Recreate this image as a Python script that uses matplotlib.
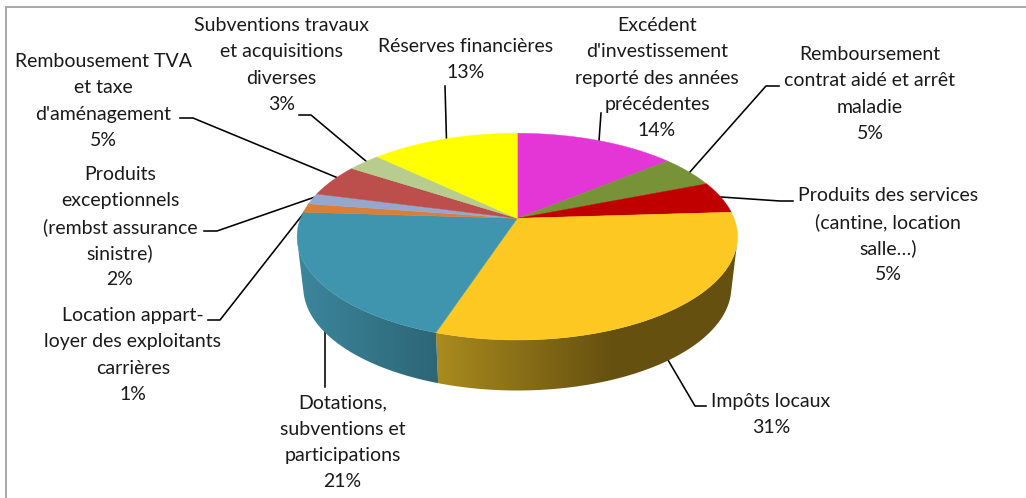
import numpy as np
import matplotlib
matplotlib.use("Agg")
import matplotlib.pyplot as plt
from matplotlib.patches import Polygon

# ---------- data ----------
labels = [
    "Excédent\nd'investissement\nreporté des années\nprécédentes",
    "Remboursement\ncontrat aidé et arrêt\nmaladie",
    "Produits des services\n(cantine, location\nsalle…)",
    "Impôts locaux",
    "Dotations,\nsubventions et\nparticipations",
    "Location appart-\nloyer des exploitants\ncarrières",
    "Produits\nexceptionnels\n(rembst assurance\nsinistre)",
    "Rembousement TVA\net taxe\nd'aménagement",
    "Subventions travaux\net acquisitions\ndiverses",
    "Réserves financières",
]
values = [14, 5, 5, 31, 20.9, 1.4, 1.7, 5.1, 2.9, 12.9]

# ---------- style / layout ----------
colors = ["#E436D6", "#779237", "#C00000", "#FCC821", "#4095AE",
          "#D8803A", "#94A8CE", "#BC4E4C", "#B8CC90", "#FFFF00"]
# centre x and first-line centre y of each label block, in pixels
label_x = [657, 870, 888, 771, 342.5, 133, 120, 103.5, 281.5, 465.5]
label_y = [25.5, 54.5, 195.5, 401.5, 403, 315.5, 174.5, 61.5, 25.5, 46.5]
leaders = [
    [(601, 113), (599, 141)],
    [(689, 173), (766, 86), (779, 86)],
    [(721, 197), (780, 201), (793, 201)],
    [(668, 360), (695, 406), (706, 406)],
    [(324.5, 328), (324.5, 387)],
    [(208, 320), (220, 320), (307, 209)],
    [(204, 231), (217, 231), (315, 197)],
    [(180, 118), (193, 118), (338, 178)],
    [(299, 115), (311, 115), (367, 162)],
    [(445, 86), (446.5, 140)],
]
side_x = {3: ([436, 613], ["#AA8B1E", "#655010"]),
          4: ([303, 436], ["#3C859B", "#2D6677"])}

APEX_X, APEX_Y = 517.3, 218.3
KP, SY, R = 0.1775, 100.1, 216.7
DEPTH, BOTTOM_SCALE = 50.5, 0.972
FONT = "Lato"
FS = 14.0
LINE_PX = 26.3


def rim(theta):
    u, v = np.sin(theta), np.cos(theta)
    d = 1 + KP * v
    return APEX_X + R * u / d, APEX_Y - SY * v / d


fig = plt.figure(figsize=(10.26, 4.98), dpi=100)
ax = fig.add_axes([0, 0, 1, 1])
ax.set_xlim(0, 1026)
ax.set_ylim(498, 0)
ax.axis("off")

# frame
ax.plot([1026, 6, 6], [7, 7, 498], color="#A3A3A3", lw=1.3, zorder=1,
        solid_capstyle="butt", solid_joinstyle="miter")

# leaders
for pts in leaders:
    xs, ys = zip(*pts)
    ax.plot(xs, ys, color="black", lw=1.15, zorder=2, solid_joinstyle="round")

fracs = np.cumsum([0] + values) / sum(values)
angles = fracs * 2 * np.pi

# side wall: front-facing part of each slice, filled with a horizontal gradient
for i, (a0, a1) in enumerate(zip(angles[:-1], angles[1:])):
    th = np.linspace(a0, a1, 400)
    x, y = rim(th)
    xb = APEX_X + (x - APEX_X) * BOTTOM_SCALE
    yb = y + DEPTH
    cross = np.gradient(x) * (yb - y) - np.gradient(y) * (xb - x)
    keep = cross < 0
    if keep.sum() < 2:
        continue
    px = np.r_[x[keep], xb[keep][::-1]]
    py = np.r_[y[keep], yb[keep][::-1]]
    if i in side_x:
        poly = Polygon(np.c_[px, py], closed=True, transform=ax.transData,
                       facecolor="none", edgecolor="none")
        ax.add_patch(poly)
        xs, cs = side_x[i]
        rgb = np.array([matplotlib.colors.to_rgb(c) for c in cs])
        gx = np.arange(px.min() - 2, px.max() + 3)
        grad = np.stack([np.interp(gx, xs, rgb[:, c]) for c in range(3)], axis=-1)[None, :, :]
        im = ax.imshow(grad, extent=(gx[0], gx[-1], py.max() + 2, py.min() - 2),
                       aspect="auto", interpolation="bilinear", zorder=3)
        im.set_clip_path(poly)
    else:
        ax.fill(px, py, facecolor=colors[i], edgecolor="none", zorder=2.9)
ax.set_xlim(0, 1026)
ax.set_ylim(498, 0)

# top faces
for i, (a0, a1) in enumerate(zip(angles[:-1], angles[1:])):
    th = np.linspace(a0, a1, 120)
    x, y = rim(th)
    ax.fill(np.r_[APEX_X, x], np.r_[APEX_Y, y], facecolor=colors[i],
            edgecolor=colors[i], lw=0.3, zorder=4)

# labels
for name, val, lx, ly in zip(labels, values, label_x, label_y):
    lines = name.split("\n") + [f"{val:.0f}%"]
    for k, line in enumerate(lines):
        ax.text(lx, ly + k * LINE_PX, line, ha="center", va="center",
                family=FONT, fontsize=FS, color="#1a1a1a", zorder=5)

fig.savefig("out.png", dpi=100, facecolor="white")
